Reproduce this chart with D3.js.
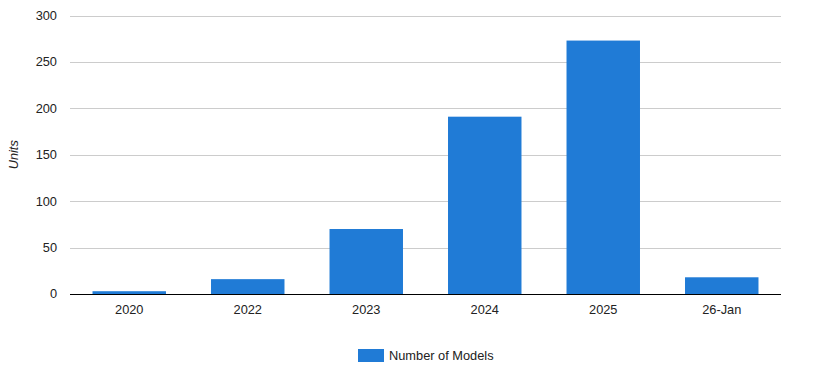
<!DOCTYPE html>
<html>
  <head>
    <meta http-equiv="Content-Type" content="text/html;charset=utf-8"/>
    <script src="https://d3js.org/d3.v7.min.js"></script>
    <style type="text/css">
    body { margin: 0; background: #fff; }
    text { font-family: "Liberation Sans", Arial, sans-serif; font-size: 12.8px; fill: #222; }
    .grid-line { stroke: #cccccc; stroke-width: 1px; }
    </style>
  </head>
  <body>
    <script type="text/javascript">
      var categories = ["2020", "2022", "2023", "2024", "2025", "26-Jan"];
      var values = [3, 16, 70, 191, 273, 18];
      var yTicks = [0, 50, 100, 150, 200, 250, 300];
      var seriesName = "Number of Models";
      var axisTitle = "Units";

      var width = 822;
      var height = 379;
      var plotLeft = 70, plotRight = 781, plotTop = 15.5, plotBottom = 294;
      var barColor = "#207bd6";

      var svg = d3.select("body")
        .append("svg")
          .attr("width", width)
          .attr("height", height);

      var xScale = d3.scaleBand()
        .domain(categories)
        .range([plotLeft, plotRight])
        .paddingInner(0.38)
        .paddingOuter(0.19);

      var yScale = d3.scaleLinear()
        .domain([0, 300])
        .range([plotBottom, plotTop]);

      // grid lines
      svg.append("g").selectAll("line")
        .data(yTicks.filter(function(d) { return d > 0; }))
        .enter().append("line")
          .classed("grid-line", true)
          .attr("x1", plotLeft)
          .attr("x2", plotRight)
          .attr("y1", function(d) { return Math.round(yScale(d)) + 0.5; })
          .attr("y2", function(d) { return Math.round(yScale(d)) + 0.5; });

      // y tick labels
      svg.append("g").selectAll("text")
        .data(yTicks)
        .enter().append("text")
          .attr("x", 57)
          .attr("y", function(d) { return yScale(d); })
          .attr("dy", "0.35em")
          .attr("text-anchor", "end")
          .text(function(d) { return d; });

      // bars
      svg.append("g").selectAll("rect")
        .data(values)
        .enter().append("rect")
          .attr("x", function(d, i) { return xScale(categories[i]); })
          .attr("width", xScale.bandwidth())
          .attr("y", function(d) { return yScale(d); })
          .attr("height", function(d) { return yScale(0) - yScale(d); })
          .attr("fill", barColor);

      // baseline
      svg.append("line")
        .attr("x1", plotLeft)
        .attr("x2", plotRight)
        .attr("y1", Math.round(yScale(0)) + 0.5)
        .attr("y2", Math.round(yScale(0)) + 0.5)
        .attr("stroke", "#000")
        .attr("stroke-width", 1.2);

      // x labels
      svg.append("g").selectAll("text")
        .data(categories)
        .enter().append("text")
          .attr("x", function(d) { return xScale(d) + xScale.bandwidth() / 2; })
          .attr("y", 314)
          .attr("text-anchor", "middle")
          .text(function(d) { return d; });

      // axis title
      svg.append("text")
        .attr("transform", "translate(18," + ((plotTop + plotBottom) / 2) + ") rotate(-90)")
        .attr("text-anchor", "middle")
        .style("font-style", "italic")
        .text(axisTitle);

      // legend
      var legend = svg.append("g").attr("transform", "translate(358,349)");
      legend.append("rect")
        .attr("width", 26)
        .attr("height", 13)
        .attr("fill", barColor);
      legend.append("text")
        .attr("x", 31)
        .attr("y", 6.5)
        .attr("dy", "0.35em")
        .text(seriesName);
    </script>
  </body>
</html>
